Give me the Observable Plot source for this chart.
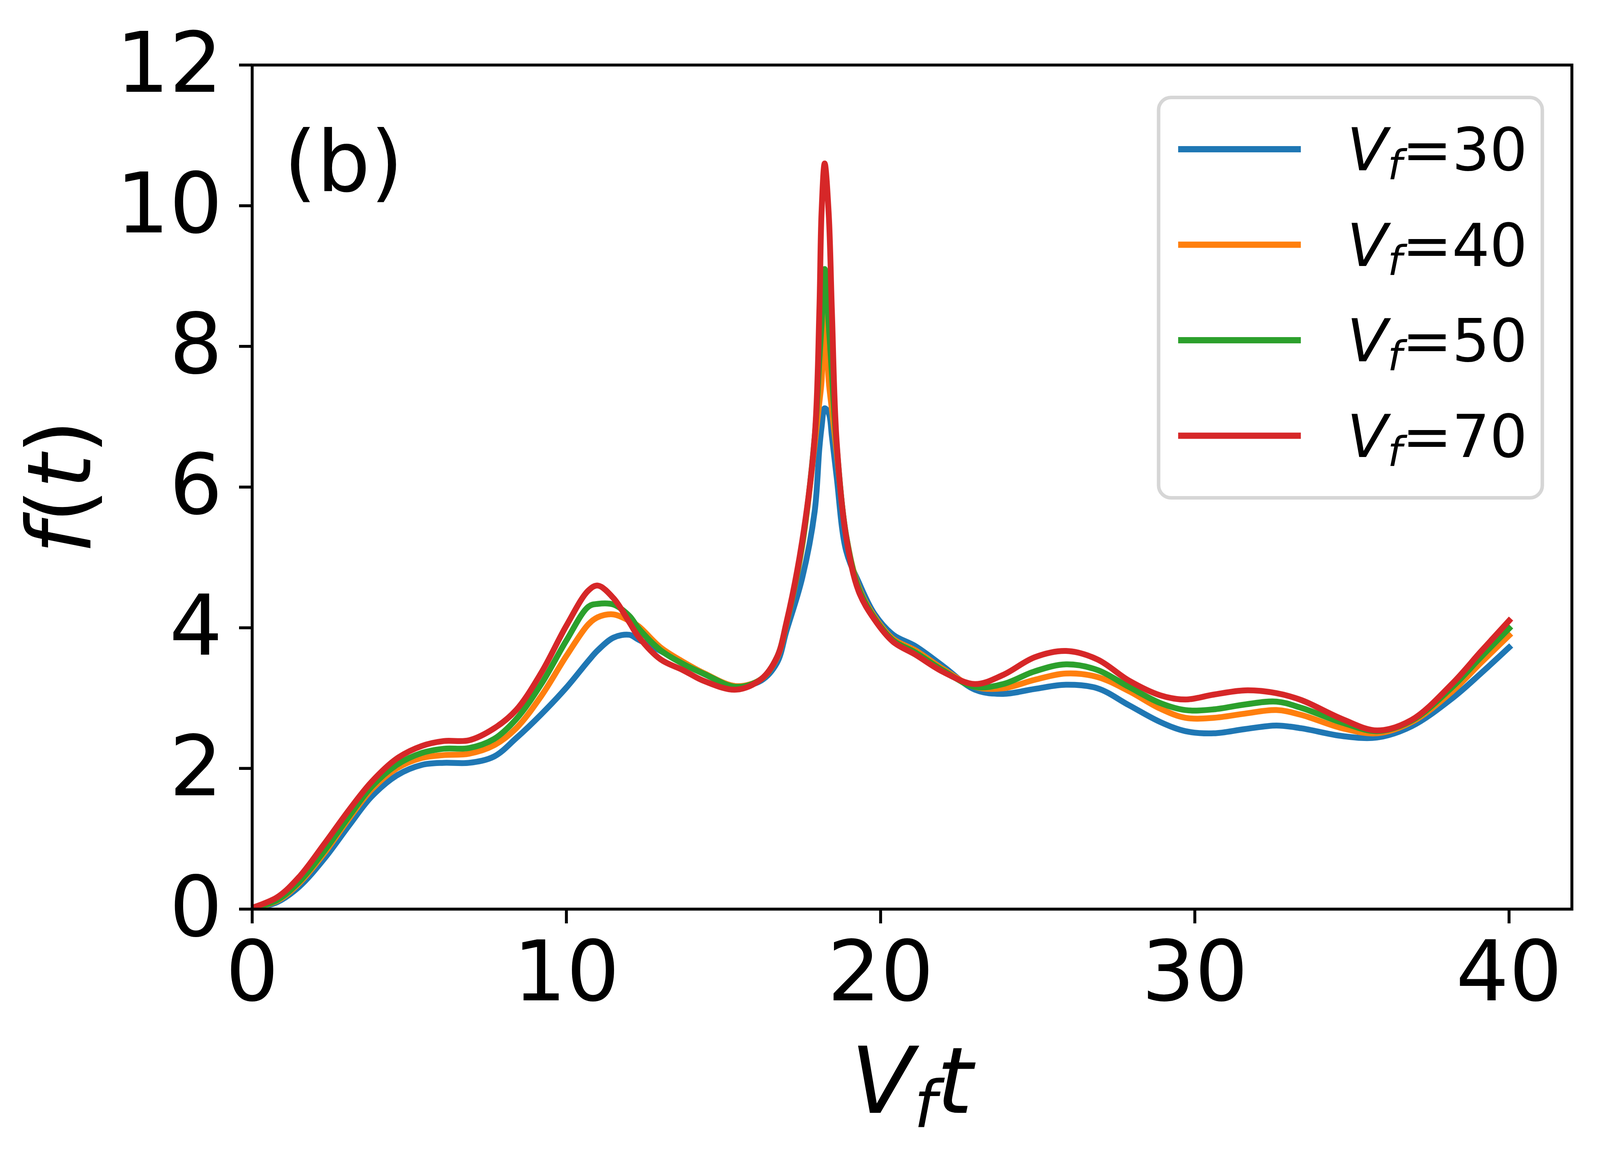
<!DOCTYPE html>
<html><head><meta charset="utf-8">
<script src="https://cdn.jsdelivr.net/npm/d3@7"></script>
<script src="https://cdn.jsdelivr.net/npm/@observablehq/plot@0.6"></script>
<style>
html,body{margin:0;padding:0;background:#fff;overflow:hidden;}
#chart{position:relative;}
</style></head><body><div id="chart"></div>
<script>
// shared time grid (V_f t)
const t = [0, 0.8, 1.5, 2.3, 3.1, 3.8, 4.6, 5.4, 6.1, 6.9, 7.7, 8.4, 9.2, 10.0, 10.7, 11.0, 11.5, 12.0, 12.3, 13.0, 13.7, 14.4, 15.4, 16.2, 16.7, 17.0, 17.5, 17.9, 18.05, 18.12, 18.22, 18.35, 18.45, 18.6, 18.9, 19.3, 19.8, 20.4, 21.1, 22.0, 23.0, 23.9, 24.9, 25.9, 26.9, 27.9, 28.9, 29.7, 30.6, 31.6, 32.6, 33.4, 34.7, 35.8, 36.9, 38.2, 39.1, 40.0];
const f30 = [0.00,0.10,0.32,0.72,1.20,1.60,1.90,2.05,2.08,2.08, 2.17,2.43,2.77,3.15,3.53,3.68,3.86,3.90,3.83,3.67, 3.50,3.34,3.17,3.25,3.50,3.95,4.70,5.65,6.55,6.85, 7.12,7.05,6.72,6.15,5.10,4.65,4.20,3.90,3.74,3.45, 3.12,3.06,3.13,3.19,3.14,2.90,2.66,2.53,2.50,2.56, 2.61,2.57,2.46,2.44,2.60,3.00,3.35,3.72];
const f40 = [0.01,0.12,0.37,0.80,1.30,1.70,2.00,2.15,2.19,2.21, 2.33,2.57,3.03,3.60,4.05,4.15,4.19,4.10,4.02,3.72, 3.52,3.35,3.17,3.27,3.57,4.05,5.15,6.60,7.20,7.50, 8.50,7.50,7.10,6.50,5.32,4.58,4.16,3.84,3.68,3.41, 3.16,3.14,3.26,3.35,3.30,3.10,2.85,2.72,2.72,2.78, 2.83,2.76,2.57,2.50,2.66,3.10,3.50,3.89];
const f50 = [0.01,0.13,0.39,0.83,1.33,1.74,2.05,2.22,2.28,2.29, 2.42,2.70,3.20,3.82,4.30,4.34,4.33,4.17,3.99,3.68, 3.49,3.34,3.16,3.27,3.58,4.06,5.18,6.70,7.80,8.30, 9.10,8.30,7.60,6.60,5.32,4.56,4.14,3.82,3.65,3.39, 3.16,3.20,3.38,3.48,3.40,3.16,2.93,2.83,2.84,2.91, 2.95,2.86,2.65,2.53,2.68,3.16,3.58,3.99];
const f70 = [0.02,0.17,0.46,0.93,1.42,1.81,2.14,2.32,2.39,2.40, 2.57,2.83,3.36,4.03,4.53,4.60,4.42,4.08,3.87,3.55, 3.40,3.24,3.12,3.27,3.58,4.07,5.22,6.70,8.50,9.90, 10.60,9.87,8.49,6.65,5.30,4.52,4.12,3.80,3.62,3.37, 3.20,3.33,3.58,3.67,3.55,3.25,3.04,2.98,3.05,3.11, 3.07,2.97,2.70,2.54,2.69,3.21,3.66,4.10];
const seriesLabels = ["30", "40", "50", "70"];
const seriesColors = ["#1f77b4", "#ff7f0e", "#2ca02c", "#d62728"];
const xTicks = [0, 10, 20, 30, 40];
const yTicks = [0, 2, 4, 6, 8, 10, 12];

// layout measured in the 4578-wide reference, scaled horizontally to the real window width
const REF_W = 4578;
const W = Math.min(window.innerWidth || REF_W, REF_W);
const H = 2980;
const sx = W / REF_W;
const X = v => v * sx;
const mL = X(721), mR = X(81), mT = 166, mB = 653;

const seriesValues = [f30, f40, f50, f70];
const data = [];
seriesValues.forEach((arr, i) => arr.forEach((v, j) => data.push({t: t[j], f: v, s: seriesLabels[i]})));

const plot = Plot.plot({
  width: W, height: H,
  marginLeft: mL, marginRight: mR, marginTop: mT, marginBottom: mB,
  style: {fontFamily: "DejaVu Sans", background: "white", color: "black"},
  x: {domain: [0, 42]},
  y: {domain: [0, 12]},
  color: {domain: seriesLabels, range: seriesColors},
  marks: [
    Plot.line(data, {x: "t", y: "f", z: "s", stroke: "s", strokeWidth: 15, curve: "catmull-rom",
      strokeLinecap: "square", strokeLinejoin: "round", clip: true}),
    Plot.frame({stroke: "black", strokeWidth: 7.5}),
    Plot.axisX({ticks: xTicks, tickSize: 37, tickPadding: 45, fontSize: 214, strokeWidth: 7.5, label: null, tickFormat: d => String(d)}),
    Plot.axisY({ticks: yTicks, tickSize: X(37), tickPadding: X(48), fontSize: 214, strokeWidth: 7.5, label: null, tickFormat: d => String(d)})
  ]
});
document.getElementById("chart").appendChild(plot);

const svg = d3.select(plot);
const g = svg.append("g").attr("font-family", "DejaVu Sans").attr("fill", "black");

// x label
const xl = g.append("text").attr("x", (mL + W - mR) / 2).attr("y", 2849)
  .attr("text-anchor", "middle").attr("font-size", 236);
xl.append("tspan").attr("font-style", "italic").text("V");
xl.append("tspan").attr("font-style", "italic").attr("font-size", 165).attr("dy", 36).text("f");
xl.append("tspan").attr("font-style", "italic").attr("dy", -36).text("t");

// y label
const yl = g.append("text").attr("transform", `translate(${X(258)},${(mT + H - mB) / 2}) rotate(-90)`)
  .attr("text-anchor", "middle").attr("font-size", 226);
yl.append("tspan").attr("font-style", "italic").text("f");
yl.append("tspan").text("(");
yl.append("tspan").attr("font-style", "italic").text("t");
yl.append("tspan").text(")");

// panel tag
g.append("text").attr("x", X(812)).attr("y", 489).attr("text-anchor", "start").attr("font-size", 216).text("(b)");

// legend
const lg = g.append("g");
lg.append("rect").attr("x", X(3310) + 4.5).attr("y", 249.5).attr("width", X(4418) - X(3310) - 9).attr("height", 1025)
  .attr("rx", 32).attr("fill", "white").attr("fill-opacity", 0.8)
  .attr("stroke", "#d6d6d6").attr("stroke-width", 9);
seriesLabels.forEach((lab, i) => {
  const cy = 382 + i * 244.5;
  lg.append("line").attr("x1", X(3371)).attr("x2", X(3722)).attr("y1", cy).attr("y2", cy)
    .attr("stroke", seriesColors[i]).attr("stroke-width", 16);
  const tx = lg.append("text").attr("x", X(3854)).attr("y", 436 + i * 244.5)
    .attr("text-anchor", "start").attr("font-size", 152);
  tx.append("tspan").attr("font-style", "italic").text("V");
  tx.append("tspan").attr("font-style", "italic").attr("font-size", 106).attr("dy", 23).text("f");
  tx.append("tspan").attr("dy", -23).text("=" + lab);
});
</script>
</body></html>
